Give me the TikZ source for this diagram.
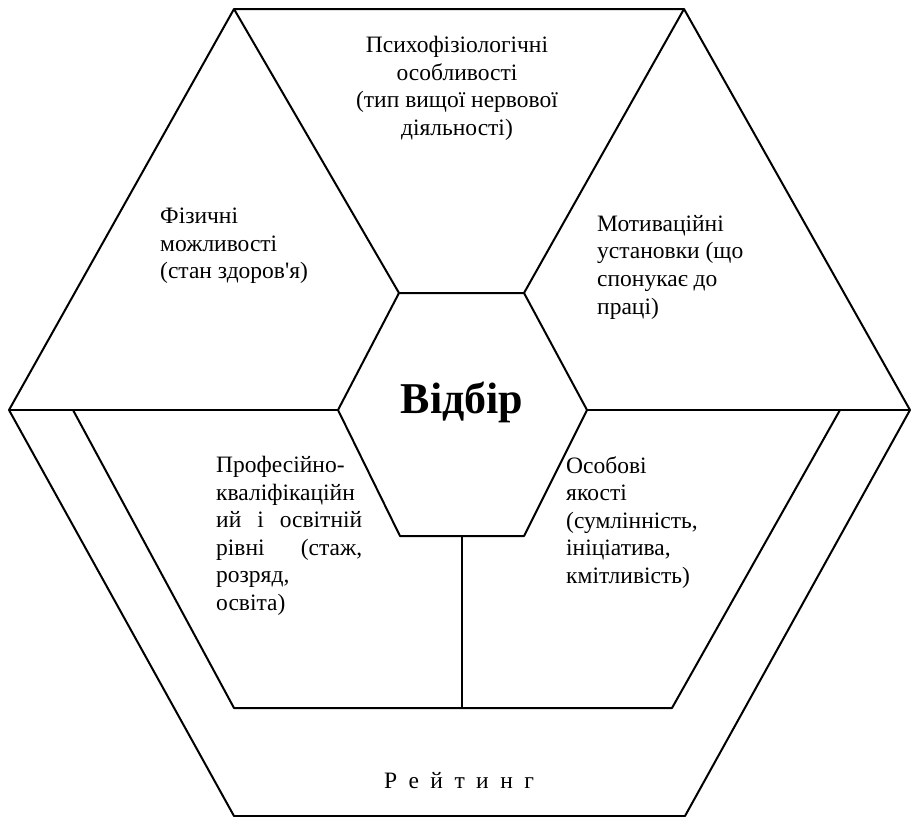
\documentclass[tikz,border=0pt]{standalone}
\usepackage{fontspec}
\setmainfont{Liberation Serif}[Ligatures=TeXOff]
\begin{document}
\begin{tikzpicture}[x=1pt,y=-1pt,
  edge/.style={line width=2pt, line join=round},
  lbl/.style={font=\fontsize{23.5}{27.6}\selectfont, align=left, anchor=north west, inner sep=0pt},
  ctr/.style={font=\fontsize{23.5}{27.6}\selectfont, align=center, anchor=north, inner sep=0pt},
  title/.style={font=\fontsize{44}{50}\selectfont\bfseries, inner sep=0pt}]
\useasboundingbox (0,0) rectangle (914,817);

% outer hexagon
\coordinate (OL)  at (9,410);
\coordinate (OTL) at (234,9);
\coordinate (OTR) at (684,9);
\coordinate (OR)  at (910,410);
\coordinate (OBR) at (685,816);
\coordinate (OBL) at (234,816);
% central hexagon
\coordinate (IL)  at (338,410);
\coordinate (ITL) at (399,293);
\coordinate (ITR) at (524,293);
\coordinate (IR)  at (587,410);
\coordinate (IBR) at (524,536);
\coordinate (IBL) at (400,536);
% inner border of the rating band
\coordinate (BL)  at (73,410);
\coordinate (BBL) at (234,708);
\coordinate (BBR) at (672,708);
\coordinate (BR)  at (840,410);
% divider between the two lower sectors
\coordinate (IB)  at (462,536);
\coordinate (BB)  at (462,708);

\draw[edge] (OL) -- (OTL) -- (OTR) -- (OR) -- (OBR) -- (OBL) -- cycle;
\draw[edge] (IL) -- (ITL) -- (ITR) -- (IR) -- (IBR) -- (IBL) -- cycle;
\draw[edge] (ITL) -- (OTL);
\draw[edge] (ITR) -- (OTR);
\draw[edge] (OL) -- (IL);
\draw[edge] (IR) -- (OR);
\draw[edge] (BL) -- (BBL) -- (BBR) -- (BR);
\draw[edge] (IB) -- (BB);

\node[title] (sel) at (462,402) {Відбір};

\node[ctr] (psy) at (457,36) {Психофізіологічні\\особливості\\(тип вищої нервової\\діяльності)};
\node[lbl] (phys) at (160,208) {Фізичні\\можливості\\(стан здоров'я)};
\node[lbl] (mot) at (597,215) {Мотиваційні\\установки (що\\спонукає до\\праці)};
\node[lbl] (prof) at (216,456) {Професійно-\\кваліфікаційн\\\hbox to 146pt{ий\hfill і\hfill освітній}\\\hbox to 146pt{рівні\hfill (стаж,}\\розряд,\\освіта)};
\node[lbl] (pers) at (566,456) {Особові\\якості\\(сумлінність,\\ініціатива,\\кмітливість)};
\node[ctr] (rate) at (459,772) {\hbox to 150pt{Р\hfill е\hfill й\hfill т\hfill и\hfill н\hfill г}};
\end{tikzpicture}
\end{document}
